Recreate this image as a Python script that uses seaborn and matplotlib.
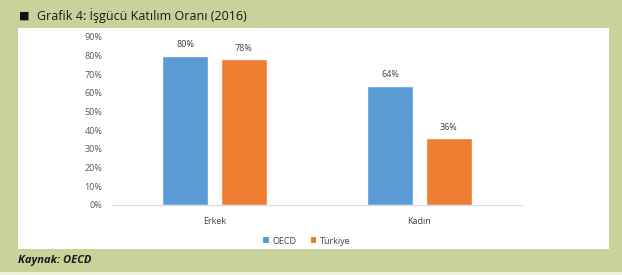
import matplotlib
matplotlib.use("Agg")
import matplotlib.pyplot as plt
import seaborn as sns
import pandas as pd
from matplotlib.patches import Rectangle, Patch

categories = ["Erkek", "Kadın"]
series = ["OECD", "Türkiye"]
oecd = [0.80, 0.64]
turkiye = [0.78, 0.36]
ytick_vals = [0, 0.1, 0.2, 0.3, 0.4, 0.5, 0.6, 0.7, 0.8, 0.9]

df = pd.DataFrame({
    "Kategori": categories * 2,
    "Seri": [series[0]] * 2 + [series[1]] * 2,
    "Oran": oecd + turkiye,
})

sns.set_theme(style="white")
plt.rcParams["font.family"] = ["Open Sans", "DejaVu Sans"]

BG = "#C9D29A"
BLUE = "#5B9BD5"
ORANGE = "#ED7D31"

fig = plt.figure(figsize=(6.22, 2.75), dpi=100)
fig.patch.set_facecolor(BG)
W, H = 622, 275

bg = fig.add_axes([0, 0, 1, 1], zorder=-10)
bg.set_xlim(0, W)
bg.set_ylim(H, 0)
bg.axis("off")
bg.add_patch(Rectangle((18, 28), 609 - 18, 249 - 28, facecolor="white", edgecolor="none"))
bg.add_patch(Rectangle((0, 272), W, 3, facecolor="#EEF1DC", edgecolor="none"))

ax = fig.add_axes([112 / W, 1 - 205 / H, (522 - 112) / W, (205 - 37) / H], zorder=1)
ax.set_facecolor("none")
sns.barplot(data=df, x="Kategori", y="Oran", hue="Seri", palette=[BLUE, ORANGE],
            width=0.566, gap=0.207, ax=ax, legend=False, saturation=1)

ax.set_ylim(0, 0.9)
ax.set_xlim(-0.5, 1.5)
ax.set_yticks(ytick_vals)
ax.set_yticklabels([f"{int(round(v * 100))}%" for v in ytick_vals], fontsize=6.5, color="#595959")
ax.tick_params(axis="x", labelsize=6.5, colors="#404040", length=0, pad=9)
ax.tick_params(axis="y", length=0, pad=7)
ax.set_xlabel("")
ax.set_ylabel("")
for s in ["top", "right", "left"]:
    ax.spines[s].set_visible(False)
ax.spines["bottom"].set_color("#D9D9D9")
ax.spines["bottom"].set_linewidth(0.8)

for cont in ax.containers:
    ax.bar_label(cont, labels=[f"{int(round(v * 100))}%" for v in cont.datavalues],
                 padding=4.5, fontsize=6.5, color="#404040")

handles = [Patch(facecolor=BLUE, edgecolor="none"), Patch(facecolor=ORANGE, edgecolor="none")]
fig.legend(handles, series, loc="center", bbox_to_anchor=(307 / W, 1 - 241 / H), ncol=2,
           frameon=False, fontsize=6.5, handlelength=0.6, handleheight=0.6,
           handletextpad=0.4, columnspacing=1.6, labelcolor="#404040")

fig.text(19 / W, 1 - 16 / H, "■", fontsize=8, color="#111111", va="center", ha="left")
fig.text(37 / W, 1 - 16 / H, "Grafik 4: İşgücü Katılım Oranı (2016)", fontsize=9,
         color="#1a1a1a", va="center", ha="left")
fig.text(18 / W, 1 - 261 / H, "Kaynak: OECD", fontsize=8, fontweight="bold",
         fontstyle="italic", color="#1a1a1a", va="center", ha="left")

fig.savefig("out.png", dpi=100, facecolor=BG)
